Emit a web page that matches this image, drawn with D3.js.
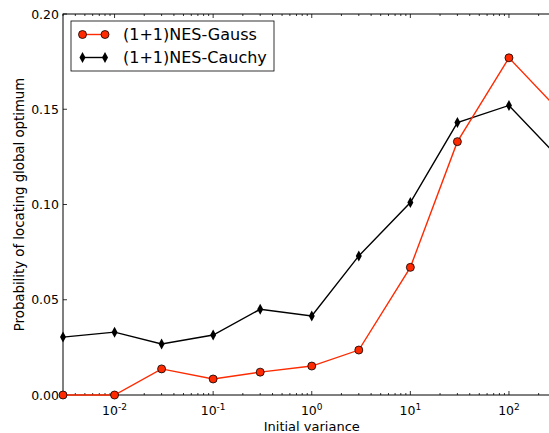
<!DOCTYPE html>
<html>
<head>
<meta charset="utf-8">
<script src="https://cdn.jsdelivr.net/npm/d3@7"></script>
<style>
body { margin: 0; background: #fff; }
svg text { font-family: "DejaVu Sans", sans-serif; }
</style>
</head>
<body>
<div class="container"></div>
<script>
var variances = [0.003, 0.01, 0.03, 0.1, 0.3, 1, 3, 10, 30, 100, 300];
var gauss = [0.0, 0.0, 0.0137, 0.0084, 0.012, 0.0152, 0.0236, 0.067, 0.133, 0.177, 0.151];
var cauchy = [0.0304, 0.033, 0.0268, 0.0315, 0.045, 0.0415, 0.073, 0.101, 0.143, 0.152, 0.126];
var yTicks = [0, 0.05, 0.10, 0.15, 0.20];
var xTicks = [0.01, 0.1, 1, 10, 100];

var margin = {top: 14, right: -7, bottom: 38, left: 63},
    width = 549 - margin.left - margin.right,
    height = 433 - margin.top - margin.bottom;

var svg = d3.select(".container")
    .append("svg")
    .attr("width", 549)
    .attr("height", 433)
    .append("g")
    .attr("transform", "translate(" + margin.left + "," + margin.top + ")");

var x = d3.scaleLog().domain([0.003, 300]).range([0, width]);
var y = d3.scaleLinear().domain([0, 0.2]).range([height, 0]);

// minor ticks 2..9 per decade
var minor = [];
for (var e = -3; e <= 2; e++) {
    for (var m = 2; m <= 9; m++) {
        var v = m * Math.pow(10, e);
        if (v >= 0.003 && v <= 300) minor.push(v);
    }
}

var ticks = svg.append("g").attr("stroke", "black").attr("stroke-width", 0.8);
minor.forEach(function (v) {
    ticks.append("line").attr("x1", x(v)).attr("x2", x(v)).attr("y1", height).attr("y2", height - 2);
    ticks.append("line").attr("x1", x(v)).attr("x2", x(v)).attr("y1", 0).attr("y2", 2);
});
xTicks.forEach(function (v) {
    ticks.append("line").attr("x1", x(v)).attr("x2", x(v)).attr("y1", height).attr("y2", height - 4);
    ticks.append("line").attr("x1", x(v)).attr("x2", x(v)).attr("y1", 0).attr("y2", 4);
});
yTicks.forEach(function (v) {
    ticks.append("line").attr("x1", 0).attr("x2", 4).attr("y1", y(v)).attr("y2", y(v));
    ticks.append("line").attr("x1", width).attr("x2", width - 4).attr("y1", y(v)).attr("y2", y(v));
});

// frame
svg.append("rect")
    .attr("width", width).attr("height", height)
    .attr("fill", "none").attr("stroke", "black").attr("stroke-width", 1);

// tick labels
xTicks.forEach(function (v) {
    var t = svg.append("text")
        .attr("x", x(v)).attr("y", height + 20)
        .attr("text-anchor", "middle")
        .style("font-size", "12.5px");
    t.append("tspan").text("10");
    t.append("tspan").attr("dy", -5).style("font-size", "9px").text(Math.round(Math.log10(v)));
});
yTicks.forEach(function (v) {
    svg.append("text")
        .attr("x", -4).attr("y", y(v) + 4.5)
        .attr("text-anchor", "end")
        .style("font-size", "12.5px")
        .text(v.toFixed(2));
});

svg.append("text")
    .attr("x", x(1)).attr("y", height + 36)
    .attr("text-anchor", "middle")
    .style("font-size", "13px")
    .text("Initial variance");

svg.append("text")
    .attr("transform", "translate(-39," + (height / 2) + ") rotate(-90)")
    .attr("text-anchor", "middle")
    .style("font-size", "13.3px")
    .text("Probability of locating global optimum");

var red = "#ff2a00";
var line = d3.line()
    .x(function (d, i) { return x(variances[i]); })
    .y(function (d) { return y(d); });

var diamond = "M0,-5.5L3,0L0,5.5L-3,0Z";

// Cauchy
svg.append("path").datum(cauchy).attr("d", line)
    .attr("fill", "none").attr("stroke", "black").attr("stroke-width", 1.4);
svg.append("g").selectAll("path").data(cauchy).enter().append("path")
    .attr("d", diamond)
    .attr("transform", function (d, i) { return "translate(" + x(variances[i]) + "," + y(d) + ")"; })
    .attr("fill", "black");

// Gauss
svg.append("path").datum(gauss).attr("d", line)
    .attr("fill", "none").attr("stroke", red).attr("stroke-width", 1.4);
svg.append("g").selectAll("circle").data(gauss).enter().append("circle")
    .attr("cx", function (d, i) { return x(variances[i]); })
    .attr("cy", function (d) { return y(d); })
    .attr("r", 4)
    .attr("fill", red).attr("stroke", "black").attr("stroke-width", 0.8);

// legend
var lg = svg.append("g").attr("transform", "translate(8,7)");
lg.append("rect").attr("width", 203).attr("height", 50)
    .attr("fill", "white").attr("stroke", "black").attr("stroke-width", 0.8);
var entries = [
    {name: "(1+1)NES-Gauss", color: red, mark: "circle"},
    {name: "(1+1)NES-Cauchy", color: "black", mark: "diamond"}
];
entries.forEach(function (d, i) {
    var cy = 13.5 + i * 23;
    lg.append("line").attr("x1", 11.5).attr("x2", 34).attr("y1", cy).attr("y2", cy)
        .attr("stroke", d.color).attr("stroke-width", 1.4);
    [11.5, 34].forEach(function (cx) {
        if (d.mark === "circle") {
            lg.append("circle").attr("cx", cx).attr("cy", cy).attr("r", 4)
                .attr("fill", red).attr("stroke", "black").attr("stroke-width", 0.8);
        } else {
            lg.append("path").attr("d", diamond)
                .attr("transform", "translate(" + cx + "," + cy + ")").attr("fill", "black");
        }
    });
    lg.append("text").attr("x", 52).attr("y", cy + 5.5)
        .style("font-size", "16px").text(d.name);
});
</script>
</body>
</html>
